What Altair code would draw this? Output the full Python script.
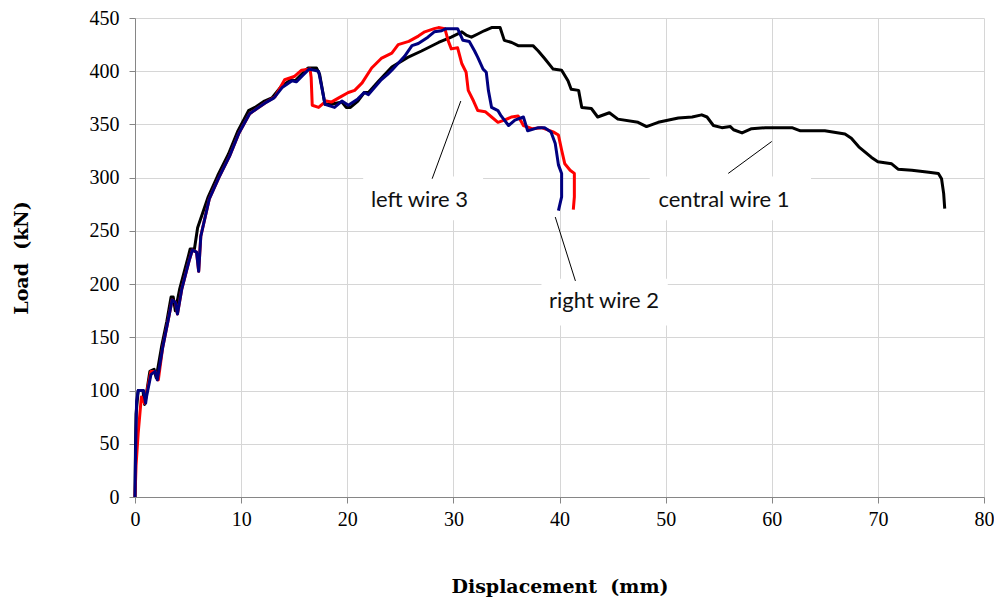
import altair as alt
import pandas as pd

# central wire 1 (black)
c_x = [0, 0.05, 0.1, 0.3, 0.75, 0.9, 1.0, 1.4, 1.8, 2.0, 2.5, 3.0, 3.4, 3.6, 3.8, 4.2, 5.0, 5.2, 5.6, 5.9,
       6.9, 7.8, 8.8, 9.7, 10.7, 11.3, 12.2, 12.9, 13.8, 14.7, 15.1, 15.7, 16.3, 17.1, 17.4, 17.9, 18.5, 19.5,
       19.9, 20.3, 21.0, 21.6, 22.0, 22.9, 24.2, 25.7, 27.0, 28.6, 29.8, 30.8, 31.2, 31.7, 32.3, 32.9, 33.6,
       34.4, 34.8, 35.5, 36.1, 37.5, 38.0, 38.6, 39.4, 40.2, 40.8, 41.1, 41.8, 42.1, 43.0, 43.6, 44.7, 45.5,
       47.4, 48.2, 49.3, 51.2, 52.5, 53.4, 53.9, 54.5, 55.3, 56.1, 56.4, 57.2, 58.1, 59.4, 61.9, 62.7, 65.0,
       66.9, 67.5, 68.2, 69.4, 70.0, 71.3, 71.9, 73.2, 74.8, 75.7, 76.0, 76.2, 76.3]
c_y = [0, 50, 78, 100, 100, 87, 92, 118, 120, 112, 141, 165, 188, 188, 175, 195, 225, 233, 233, 253,
       282, 302, 322, 344, 363, 366, 372, 375, 386, 392, 391, 397, 403, 403, 397, 369, 369, 371,
       366, 366, 372, 380, 380, 390, 404, 413, 419, 427, 432, 437, 434, 432, 435, 438, 441,
       441, 429, 427, 424, 424, 419, 412, 402, 401, 391, 383, 382, 366, 365, 357, 361, 355,
       352, 348, 352, 356, 357, 359, 357, 349, 347, 348, 345, 342, 346, 347, 347, 344, 344,
       341, 337, 329, 319, 315, 313, 308, 307, 305, 304, 299, 285, 271]

# left wire 3 (red)
l_x = [0, 0.1, 0.3, 0.6, 0.9, 1.1, 1.5, 1.9, 2.2, 2.6, 3.1, 3.5, 3.8, 4.0, 4.4, 5.1, 5.4, 5.8, 6.0, 6.2,
       7.0, 7.9, 8.9, 9.8, 10.8, 11.5, 12.4, 13.2, 14.1, 15.0, 15.7, 16.5, 16.6, 16.7, 17.3, 18.0, 18.5,
       19.2, 20.1, 20.7, 21.4, 22.3, 23.2, 24.2, 24.8, 25.8, 26.7, 27.3, 28.2, 28.6, 29.2, 29.5, 29.8,
       30.4, 30.8, 31.2, 31.4, 31.9, 32.3, 33.0, 33.6, 34.2, 34.8, 35.5, 36.1, 36.6, 37.4, 38.3, 39.4,
       39.9, 40.2, 40.5, 41.0, 41.4, 41.4, 41.3]
l_y = [0, 30, 60, 94, 88, 98, 118, 118, 110, 140, 165, 185, 183, 172, 195, 222, 232, 230, 212, 245,
       280, 300, 320, 342, 360, 365, 371, 376, 392, 395, 401, 402, 394, 368, 366, 372, 371,
       375, 380, 382, 389, 403, 412, 417, 425, 428, 433, 437, 440, 441, 440, 429, 421,
       422, 407, 399, 382, 372, 363, 362, 357, 352, 354, 357, 358, 349, 346, 347, 343,
       340, 326, 313, 307, 304, 282, 270]

# right wire 2 (blue)
r_x = [0, 0.05, 0.15, 0.3, 0.8, 1.0, 1.1, 1.5, 1.9, 2.1, 2.6, 3.1, 3.5, 3.8, 4.0, 4.4, 5.1, 5.4, 5.8, 6.0,
       6.2, 7.0, 7.9, 8.9, 9.8, 10.8, 11.5, 12.4, 13.1, 13.9, 14.8, 15.2, 15.8, 16.4, 17.3, 17.6, 17.9,
       18.8, 19.5, 20.1, 21.0, 21.6, 22.0, 23.2, 23.8, 24.2, 25.4, 26.1, 26.7, 27.6, 28.2, 28.9, 29.3,
       30.4, 30.9, 31.5, 32.0, 32.3, 32.8, 33.1, 33.3, 33.6, 34.2, 34.5, 35.2, 35.8, 36.6, 37.0, 38.0,
       38.6, 39.2, 39.6, 39.9, 40.2, 40.2, 39.9]
r_y = [0, 40, 90, 100, 100, 88, 95, 115, 118, 110, 140, 165, 185, 183, 172, 195, 222, 232, 230, 212,
       245, 280, 300, 320, 342, 360, 365, 371, 375, 385, 391, 390, 396, 402, 400, 385, 369,
       366, 372, 368, 374, 380, 378, 392, 397, 401, 414, 424, 426, 432, 437, 438, 440,
       440, 429, 428, 419, 413, 402, 399, 382, 366, 363, 358, 349, 354, 357, 344, 347,
       347, 343, 332, 312, 304, 282, 269]

series_names = ["central wire 1", "left wire 3", "right wire 2"]
series_colors = ["#000000", "#ff0000", "#000080"]

x_ticks = [0, 10, 20, 30, 40, 50, 60, 70, 80]
y_ticks = [0, 50, 100, 150, 200, 250, 300, 350, 400, 450]

# annotations
ann_text = ["left wire 3", "right wire 2", "central wire 1"]
ann_tx = [26.8, 44.2, 55.5]
ann_ty = [279, 184, 279]
box_x1 = [21.5, 38.3, 48.5]
box_x2 = [32.8, 50.2, 63.7]
box_y1 = [260, 161, 260]
box_y2 = [301, 205, 301]
lead_x1 = [28.0, 39.6, 55.9]
lead_y1 = [299, 263, 304]
lead_x2 = [30.7, 41.5, 60.0]
lead_y2 = [372, 203, 334]

rows = []
for name, xs, ys in [("central wire 1", c_x, c_y), ("left wire 3", l_x, l_y), ("right wire 2", r_x, r_y)]:
    for i, (a, b) in enumerate(zip(xs, ys)):
        rows.append({"series": name, "i": i, "x": a, "y": b})
df = pd.DataFrame(rows)

ann = pd.DataFrame({"text": ann_text, "tx": ann_tx, "ty": ann_ty,
                    "bx1": box_x1, "bx2": box_x2, "by1": box_y1, "by2": box_y2,
                    "lx1": lead_x1, "ly1": lead_y1, "lx2": lead_x2, "ly2": lead_y2})

xscale = alt.Scale(domain=[0, 80], nice=False, zero=False)
yscale = alt.Scale(domain=[0, 450], nice=False, zero=False)

xaxis = alt.Axis(values=x_ticks, title="Displacement\u00a0\u00a0(mm)", grid=True, format="d",
                 labelFont="Liberation Serif", labelFontSize=20, labelColor="#000000", labelPadding=6,
                 labelFlush=False,
                 titleFont="DejaVu Serif", titleFontSize=19, titleFontWeight="bold", titleColor="#000000",
                 titlePadding=48, tickSize=6)
yaxis = alt.Axis(values=y_ticks, title="Load\u00a0\u00a0(kN)", grid=True, format="d",
                 labelFont="Liberation Serif", labelFontSize=20, labelColor="#000000", labelPadding=10,
                 labelFlush=False,
                 titleFont="DejaVu Serif", titleFontSize=19, titleFontWeight="bold", titleColor="#000000",
                 titlePadding=58, tickSize=6)

boxes = alt.Chart(ann).mark_rect(color="white").encode(
    x=alt.X("bx1:Q", scale=xscale, axis=xaxis), x2="bx2:Q",
    y=alt.Y("by1:Q", scale=yscale, axis=yaxis), y2="by2:Q")

lines = alt.Chart(df).mark_line(strokeWidth=3, strokeJoin="round").encode(
    x=alt.X("x:Q", scale=xscale, axis=xaxis),
    y=alt.Y("y:Q", scale=yscale, axis=yaxis),
    color=alt.Color("series:N", scale=alt.Scale(domain=series_names, range=series_colors), legend=None),
    order="i:Q",
    detail="series:N")

leaders = alt.Chart(ann).mark_rule(color="black", strokeWidth=1).encode(
    x="lx1:Q", y="ly1:Q", x2="lx2:Q", y2="ly2:Q")

labels = alt.Chart(ann).mark_text(font="Lato", fontSize=22, color="#111111").encode(
    x="tx:Q", y="ty:Q", text="text:N")

chart = alt.layer(boxes, lines, leaders, labels).properties(
    width=849, height=479,
    autosize=alt.AutoSizeParams(type="none"),
    padding={"left": 127, "top": 10, "right": 10, "bottom": 103},
).configure_axis(
    domainColor="#868686", tickColor="#868686", gridColor="#d6d6d6", gridWidth=1, domainWidth=1
).configure_view(stroke=None)

chart.save("out.html", embed_options={"renderer": "svg", "actions": False})
